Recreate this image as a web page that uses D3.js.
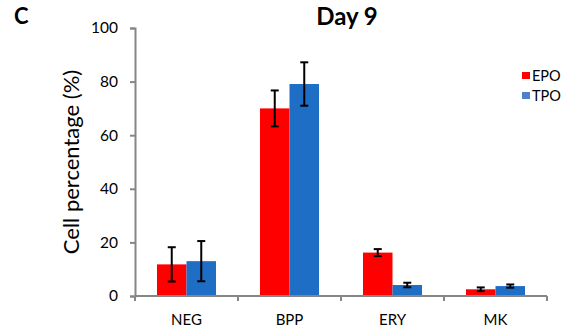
<!DOCTYPE html>
<html><head><meta charset="utf-8">
<script src="https://cdn.jsdelivr.net/npm/d3@7"></script>
<style>body{margin:0;background:#fff}svg{display:block}text{font-family:Lato,"Open Sans",sans-serif}</style>
</head><body>
<script>
const categories = ["NEG","BPP","ERY","MK"];
const seriesNames = ["EPO","TPO"];
const epoValues = [11.8, 70.0, 16.2, 2.5];
const epoErrors = [6.4, 6.7, 1.3, 0.7];
const tpoValues = [13.0, 79.1, 4.1, 3.7];
const tpoErrors = [7.5, 8.1, 0.85, 0.6];
const yTicks = [0, 20, 40, 60, 80, 100];
const colors = ["#FF0000", "#1E6EC6"];
const legendColors = ["#FF0000", "#4F81C8"];

(function () {
const W = 573, H = 335;
const svg = d3.select("body").append("svg").attr("width", W).attr("height", H);
const mLeft = 135, mRight = 547, mTop = 28, mBottom = 296;
const x = d3.scaleBand().domain(categories).range([mLeft, mRight]).paddingInner(0).paddingOuter(0);
const xs = d3.scaleBand().domain(seriesNames).range([0, x.bandwidth()]).paddingInner(0).paddingOuter(0.745);
const y = d3.scaleLinear().domain([0, 100]).range([mBottom, mTop]);

const data = categories.map((c, i) => ({c, vals: [
  {s: "EPO", v: epoValues[i], e: epoErrors[i], col: colors[0]},
  {s: "TPO", v: tpoValues[i], e: tpoErrors[i], col: colors[1]}]}));

const g = svg.append("g");
const groups = g.selectAll("g.grp").data(data).join("g").attr("class", "grp").attr("transform", d => `translate(${x(d.c)},0)`);
groups.selectAll("rect").data(d => d.vals).join("rect")
  .attr("x", d => xs(d.s)).attr("width", xs.bandwidth())
  .attr("y", d => y(d.v)).attr("height", d => y(0) - y(d.v)).attr("fill", d => d.col);

const eb = groups.selectAll("g.eb").data(d => d.vals).join("g").attr("class", "eb");
eb.append("line").attr("x1", d => xs(d.s) + xs.bandwidth()/2).attr("x2", d => xs(d.s) + xs.bandwidth()/2)
  .attr("y1", d => y(d.v + d.e)).attr("y2", d => y(d.v - d.e)).attr("stroke", "#000").attr("stroke-width", 2);
[1, -1].forEach(sg => {
  eb.append("line").attr("x1", d => xs(d.s) + xs.bandwidth()/2 - 4).attr("x2", d => xs(d.s) + xs.bandwidth()/2 + 4)
    .attr("y1", d => y(d.v + sg*d.e)).attr("y2", d => y(d.v + sg*d.e)).attr("stroke", "#000").attr("stroke-width", 2);
});

const yAxis = d3.axisLeft(y).tickValues(yTicks).tickSize(5).tickPadding(12);
const ya = svg.append("g").attr("transform", `translate(${mLeft},0)`).call(yAxis);
const xAxis = d3.axisBottom(x).tickSize(0).tickPadding(18);
const xa = svg.append("g").attr("transform", `translate(0,${mBottom})`).call(xAxis);
const bounds = categories.map(c => x(c)).concat([mRight]);
svg.append("g").selectAll("line").data(bounds).join("line")
  .attr("x1", d => d).attr("x2", d => d).attr("y1", mBottom).attr("y2", mBottom + 5)
  .attr("stroke", "#868686").attr("stroke-width", 2);
[ya, xa].forEach(a => {
  a.select(".domain").attr("stroke", "#868686").attr("stroke-width", 2);
  a.selectAll(".tick line").attr("stroke", "#868686").attr("stroke-width", 2);
  a.selectAll("text").attr("fill", "#000").style("font-size", "15.5px").style("font-family", "Lato, sans-serif");
});
xa.select(".domain").attr("d", `M${mLeft},0H${mRight}`);
xa.selectAll("text").style("font-size", "15px");

svg.append("text").attr("x", 14).attr("y", 24).text("C").style("font-weight", "bold").style("font-size", "22px");
svg.append("text").attr("x", 347).attr("y", 25).attr("text-anchor", "middle").text("Day 9")
  .style("font-weight", "bold").style("font-size", "24px");
svg.append("text").attr("transform", "translate(79,162) rotate(-90)").attr("text-anchor", "middle")
  .text("Cell percentage (%)").style("font-size", "22px");

const lg = svg.append("g").attr("transform", "translate(522,72)");
seriesNames.forEach((s, i) => {
  lg.append("rect").attr("x", 0).attr("y", i*20).attr("width", 8).attr("height", 7).attr("fill", legendColors[i]);
  lg.append("text").attr("x", 10).attr("y", i*20 + 8.5).text(s).style("font-size", "14.5px");
});
})();
</script>
</body></html>
